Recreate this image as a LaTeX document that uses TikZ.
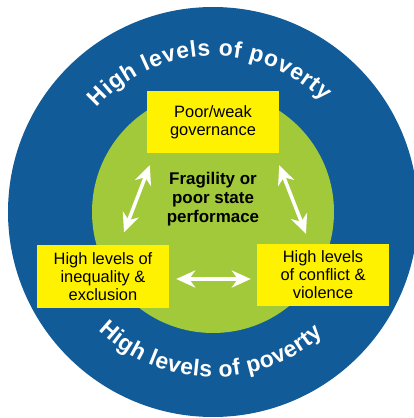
\documentclass[tikz,border=0pt]{standalone}
\usepackage{fontspec}
\setmainfont{Liberation Sans}
\usetikzlibrary{arrows.meta,decorations.text}
\definecolor{povblue}{RGB}{17,91,153}
\definecolor{fraggreen}{RGB}{161,201,58}
\definecolor{boxyellow}{RGB}{255,242,0}
\tikzset{
  factor/.style={fill=boxyellow, text=black, minimum width=132bp, minimum height=62bp,
    inner sep=0pt, align=center, font=\fontsize{16.5}{18}\selectfont},
  link/.style={white, line width=3.5bp,
    {Stealth[length=19bp,width=17bp,inset=6bp]}-{Stealth[length=19bp,width=17bp,inset=6bp]}},
  ring text/.style={decorate, decoration={text along path, text color=white,
    text align=fit to path, text={|\bfseries\fontsize{23}{23}\selectfont|High levels of poverty}}}
}
\begin{document}
\begin{tikzpicture}[x=1bp,y=1bp]
  \clip (0,0) rectangle (414,418);
  \coordinate (o) at (213,206);
  \fill[povblue] (o) circle[radius=205];
  \fill[fraggreen] (o) circle[radius=121];
  \path[ring text] ([shift={(138:156)}]o) arc[start angle=138, end angle=45, radius=156];
  \path[ring text] ([shift={(226:165)}]o) arc[start angle=226, end angle=312, radius=165];
  \node[factor] (gov) at (213,296) {Poor/weak\\governance};
  \node[factor] (ineq) at (103,141.5) {High levels of\\inequality \&\\exclusion};
  \node[factor] (conf) at (323,143) {High levels\\of conflict \&\\violence};
  \node[align=center, font=\bfseries\fontsize{17}{19}\selectfont] (frag) at (213,219)
    {Fragility or\\poor state\\performace};
  \coordinate (gi) at ([shift={(3,-12)}]gov.south west);
  \coordinate (ig) at ([shift={(21,13)}]ineq.north);
  \coordinate (gc) at ([shift={(0,-12)}]gov.south east);
  \coordinate (cg) at ([shift={(-17,10)}]conf.north);
  \coordinate (ic) at ([shift={(7,-2.5)}]ineq.east);
  \coordinate (ci) at ([shift={(-6,-4)}]conf.west);
  \begin{scope}[link]
    \draw (gi) -- (ig);
    \draw (gc) -- (cg);
    \draw (ic) -- (ci);
  \end{scope}
\end{tikzpicture}
\end{document}
